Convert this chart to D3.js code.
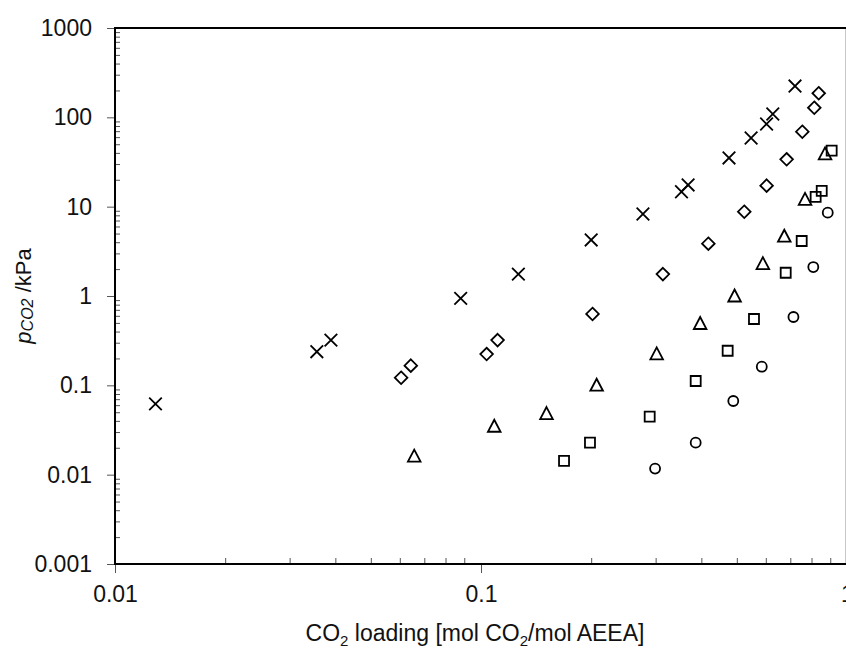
<!DOCTYPE html>
<html>
<head>
<meta charset="utf-8">
<script src="https://cdn.jsdelivr.net/npm/d3@7"></script>
<style>
  html, body { margin: 0; padding: 0; background: #fff; }
  svg { display: block; font-family: "Liberation Sans", Arial, sans-serif; }
</style>
</head>
<body>
<svg id="chart" width="846" height="657"></svg>
<script>
// ---- data (CO2 loading [mol/mol], pCO2 [kPa]) ----
const crossX = [0.0129, 0.0356, 0.0389, 0.088, 0.1265, 0.200, 0.277, 0.353, 0.368, 0.476, 0.547, 0.603, 0.627, 0.721];
const crossY = [0.062, 0.238, 0.321, 0.942, 1.76, 4.24, 8.27, 14.7, 17.5, 35.1, 58.7, 84.2, 109, 224];

const diamondX = [0.0605, 0.0643, 0.1036, 0.111, 0.2017, 0.314, 0.418, 0.524, 0.603, 0.684, 0.755, 0.814, 0.837];
const diamondY = [0.1217, 0.166, 0.224, 0.321, 0.629, 1.76, 3.85, 8.78, 17.2, 33.9, 69, 128, 186];

const triangleX = [0.0657, 0.1087, 0.151, 0.207, 0.302, 0.397, 0.493, 0.589, 0.674, 0.768, 0.871];
const triangleY = [0.0159, 0.0344, 0.0477, 0.099, 0.222, 0.486, 0.987, 2.27, 4.61, 11.9, 38.5];

const squareX = [0.1686, 0.1985, 0.289, 0.386, 0.472, 0.557, 0.680, 0.752, 0.821, 0.853, 0.908];
const squareY = [0.0143, 0.0228, 0.0446, 0.1118, 0.244, 0.553, 1.82, 4.13, 12.9, 15.0, 42.3];

const circleX = [0.299, 0.386, 0.489, 0.585, 0.714, 0.809, 0.886];
const circleY = [0.0117, 0.0228, 0.0668, 0.1616, 0.582, 2.11, 8.56];

const xMajorTicks = [0.01, 0.1, 1];
const xTickLabels = ["0.01", "0.1", "1"];
const yMajorTicks = [0.001, 0.01, 0.1, 1, 10, 100, 1000];
const yTickLabels = ["0.001", "0.01", "0.1", "1", "10", "100", "1000"];

// ---- layout ----
const svg = d3.select("#chart");
const pLeft = 115, pRight = 847, pTop = 28, pBottom = 564;

const x = d3.scaleLog().domain([0.01, 1]).range([pLeft, pRight]);
const y = d3.scaleLog().domain([0.001, 1000]).range([pBottom, pTop]);

function minorTicks(lo, hi) {
  const out = [];
  for (let d = lo; d < hi; d *= 10) for (let m = 2; m <= 9; m++) out.push(+(d * m).toPrecision(3));
  return out;
}
const xMinor = minorTicks(0.01, 1);
const yMinor = minorTicks(0.001, 1000);

const tickColor = "#555";
const fontFam = "Liberation Sans, Arial, sans-serif";

// right frame line (light grey)
svg.append("line").attr("x1", 845.5).attr("x2", 845.5).attr("y1", pTop).attr("y2", pBottom)
  .attr("stroke", "#c8c8c8").attr("stroke-width", 1);

// x minor ticks (inside, upward)
const gxm = svg.append("g").attr("transform", `translate(0,${pBottom})`)
  .call(d3.axisTop(x).tickValues(xMinor).tickSize(6).tickFormat(""));
gxm.select(".domain").remove();
gxm.selectAll("line").attr("stroke", tickColor);

// x major ticks (outside)
const gx = svg.append("g").attr("transform", `translate(0,${pBottom})`)
  .call(d3.axisBottom(x).tickValues(xMajorTicks).tickSize(9).tickPadding(13)
    .tickFormat((d, i) => xTickLabels[i]));
gx.select(".domain").remove();
gx.selectAll("line").attr("stroke", tickColor);
gx.selectAll("text").attr("font-size", 23).attr("fill", "#111").attr("font-family", fontFam);

// y minor ticks (inside, rightward)
const gym = svg.append("g").attr("transform", `translate(${pLeft},0)`)
  .call(d3.axisRight(y).tickValues(yMinor).tickSize(5).tickFormat(""));
gym.select(".domain").remove();
gym.selectAll("line").attr("stroke", tickColor);

// y major ticks (outside)
const gy = svg.append("g").attr("transform", `translate(${pLeft},0)`)
  .call(d3.axisLeft(y).tickValues(yMajorTicks).tickSize(8).tickPadding(15)
    .tickFormat((d, i) => yTickLabels[i]));
gy.select(".domain").remove();
gy.selectAll("line").attr("stroke", tickColor);
gy.selectAll("text").attr("font-size", 23).attr("fill", "#111").attr("font-family", fontFam);

// axis lines (black)
svg.append("line").attr("x1", pLeft).attr("x2", 846).attr("y1", pBottom).attr("y2", pBottom)
  .attr("stroke", "#000").attr("stroke-width", 2);
svg.append("line").attr("x1", pLeft).attr("x2", 846).attr("y1", pTop).attr("y2", pTop)
  .attr("stroke", "#000").attr("stroke-width", 2);
svg.append("line").attr("x1", pLeft).attr("x2", pLeft).attr("y1", pTop - 1).attr("y2", pBottom + 1)
  .attr("stroke", "#000").attr("stroke-width", 2);

// ---- markers ----
const shapes = {
  cross: "M-6.3,-6.3L6.3,6.3M-6.3,6.3L6.3,-6.3",
  diamond: "M0,-6.3L6.3,0L0,6.3L-6.3,0Z",
  triangle: "M0,-7L6.3,5L-6.3,5Z",
  square: "M-5,-5H5V5H-5Z",
  circle: d3.symbol(d3.symbolCircle, Math.PI * 25)()
};
function drawSeries(xs, ys, shape) {
  svg.append("g").selectAll("path").data(xs.map((v, i) => [v, ys[i]])).join("path")
    .attr("transform", d => `translate(${x(d[0])},${y(d[1])})`)
    .attr("d", shapes[shape])
    .attr("fill", "none").attr("stroke", "#000").attr("stroke-width", 1.8);
}
drawSeries(crossX, crossY, "cross");
drawSeries(diamondX, diamondY, "diamond");
drawSeries(triangleX, triangleY, "triangle");
drawSeries(squareX, squareY, "square");
drawSeries(circleX, circleY, "circle");

// ---- axis titles ----
const xt = svg.append("text").attr("x", 475).attr("y", 641).attr("text-anchor", "middle")
  .attr("font-size", 23).attr("fill", "#111");
xt.append("tspan").text("CO");
xt.append("tspan").text("2").attr("font-size", 15).attr("dy", 5);
xt.append("tspan").text(" loading [mol CO").attr("dy", -5);
xt.append("tspan").text("2").attr("font-size", 15).attr("dy", 5);
xt.append("tspan").text("/mol AEEA]").attr("dy", -5);

const yt = svg.append("text").attr("transform", `translate(31,${(pTop + pBottom) / 2}) rotate(-90)`)
  .attr("text-anchor", "middle").attr("font-size", 22).attr("fill", "#111");
yt.append("tspan").text("p").attr("font-style", "italic");
yt.append("tspan").text("CO2").attr("font-style", "italic").attr("font-size", 16).attr("dy", 2);
yt.append("tspan").text(" /kPa").attr("dy", -2);
</script>
</body>
</html>
